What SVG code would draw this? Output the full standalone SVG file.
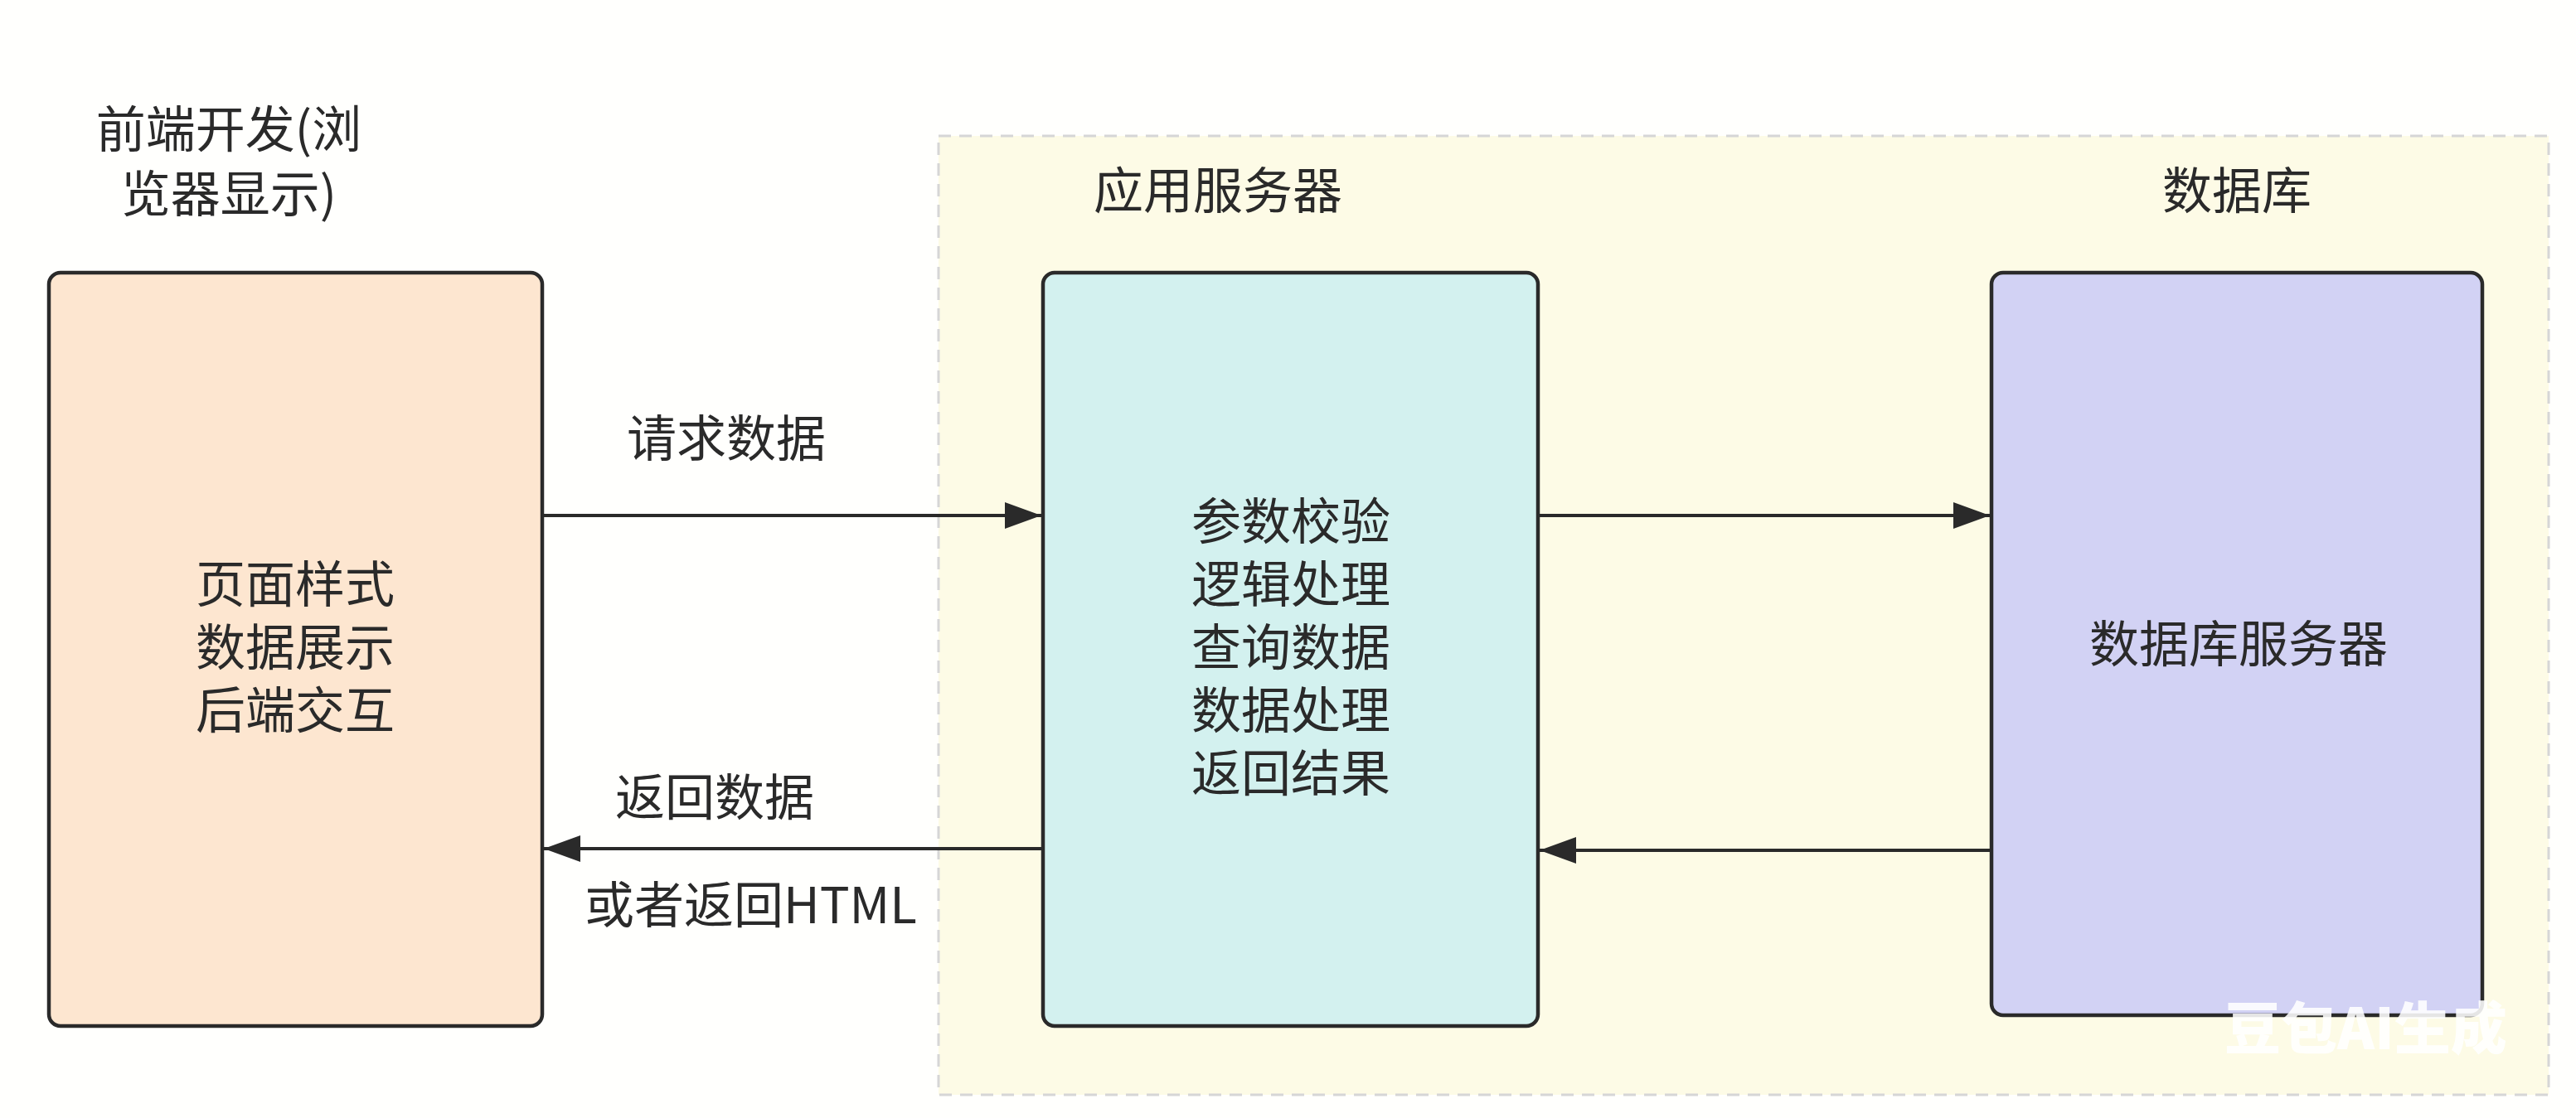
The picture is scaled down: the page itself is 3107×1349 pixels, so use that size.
<svg xmlns="http://www.w3.org/2000/svg" width="3107" height="1349" viewBox="0 0 3107 1349">
<style>
  .t { font-family: "Noto Sans CJK SC", "Noto Sans", sans-serif; font-size: 60px; fill: #2a2a2a; }
  .c { text-anchor: middle; }
  .box { stroke: #2a2a2a; stroke-width: 4.5; }
  .conn { stroke: #2a2a2a; stroke-width: 4; fill: none; }
  .wm { font-family: "Noto Sans CJK SC", sans-serif; font-weight: 900; font-size: 68px; fill: #ffffff; fill-opacity: 0.88; }
</style>
<defs>
  <marker id="arrow" viewBox="0 0 44 32" refX="44" refY="16" markerWidth="44" markerHeight="32" markerUnits="userSpaceOnUse" orient="auto">
    <path d="M0,0 L44,16 L0,32 Z" fill="#2a2a2a"/>
  </marker>
</defs>
<rect x="0" y="0" width="3107" height="1349" fill="#fffffd"/>

<g id="container">
  <rect x="1132" y="164" width="1942" height="1157" fill="#fdfbe6" stroke="#d6d6d6" stroke-width="3" stroke-dasharray="15 10"/>
  <text class="t" x="1319" y="252">应用服务器</text>
  <text class="t c" x="2698" y="252">数据库</text>
</g>

<g id="frontend">
  <text class="t c" x="276" y="178">前端开发(浏<tspan x="276" dy="78">览器显示)</tspan></text>
  <rect class="box" x="59" y="329" width="595" height="909" rx="14" fill="#fde6d0"/>
  <text class="t c" x="356" y="727">页面样式<tspan x="356" dy="76">数据展示</tspan><tspan x="356" dy="76">后端交互</tspan></text>
</g>

<g id="appserver">
  <rect class="box" x="1258" y="329" width="597" height="909" rx="14" fill="#d3f1ef"/>
  <text class="t c" x="1557" y="651">参数校验<tspan x="1557" dy="76">逻辑处理</tspan><tspan x="1557" dy="76">查询数据</tspan><tspan x="1557" dy="76">数据处理</tspan><tspan x="1557" dy="76">返回结果</tspan></text>
</g>

<g id="database">
  <rect class="box" x="2402" y="329" width="592" height="896" rx="14" fill="#d2d2f4"/>
  <text class="t c" x="2700" y="799">数据库服务器</text>
</g>

<g id="connectors">
  <line class="conn" x1="656" y1="622" x2="1256" y2="622" marker-end="url(#arrow)"/>
  <text class="t c" x="876" y="551">请求数据</text>
  <line class="conn" x1="1256" y1="1024" x2="656" y2="1024" marker-end="url(#arrow)"/>
  <text class="t c" x="862" y="984">返回数据</text>
  <text class="t" x="705" y="1114">或者返回HTML</text>
  <line class="conn" x1="1857" y1="622" x2="2400" y2="622" marker-end="url(#arrow)"/>
  <line class="conn" x1="2400" y1="1026" x2="1857" y2="1026" marker-end="url(#arrow)"/>
</g>

<text class="wm" x="2683" y="1266">豆包AI生成</text>
</svg>
